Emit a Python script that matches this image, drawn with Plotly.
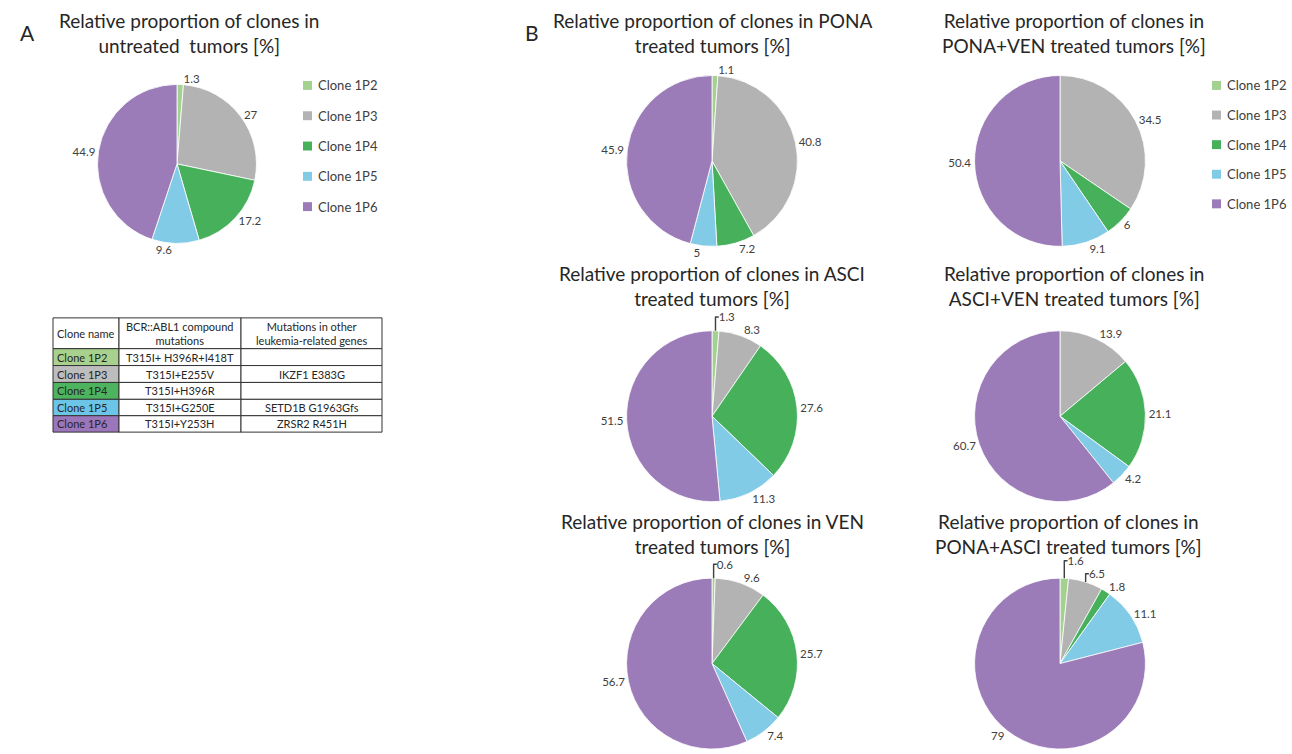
import plotly.graph_objects as go

W, H = 1292, 754

clones = ["Clone 1P2", "Clone 1P3", "Clone 1P4", "Clone 1P5", "Clone 1P6"]
colors = ["#a3d18f", "#b3b3b3", "#46b05b", "#82cbe6", "#9b7bb8"]
table_colors = ["#a9d18e", "#bdbdbd", "#4db35f", "#6cc5e6", "#9c76bb"]

untreated = [1.3, 27, 17.2, 9.6, 44.9]
pona = [1.1, 40.8, 7.2, 5, 45.9]
pona_ven = [0, 34.5, 6, 9.1, 50.4]
asci = [1.3, 8.3, 27.6, 11.3, 51.5]
asci_ven = [0, 13.9, 21.1, 4.2, 60.7]
ven = [0.6, 9.6, 25.7, 7.4, 56.7]
pona_asci = [1.6, 6.5, 1.8, 11.1, 79]

table_header = ["Clone name", "BCR::ABL1 compound<br>mutations",
                "Mutations in other<br>leukemia-related genes"]
bcr_abl1 = ["T315I+ H396R+I418T", "T315I+E255V", "T315I+H396R", "T315I+G250E", "T315I+Y253H"]
other_genes = ["", "IKZF1 E383G", "", "SETD1B G1963Gfs", "ZRSR2 R451H"]

FONT = "Lato"

def fx(p):
    return p / W

def fy(p):
    return min(1.0, max(0.0, 1 - p / H))

fig = go.Figure()

pies = [
    ("Relative proportion of clones in<br>untreated  tumors [%]", untreated, 177, 165, 80, 189, 33),
    ("Relative proportion of clones in PONA<br>treated tumors [%]", pona, 712, 162, 86, 712, 33),
    ("Relative proportion of clones in<br>PONA+VEN treated tumors [%]", pona_ven, 1060, 162, 86, 1074, 33),
    ("Relative proportion of clones in ASCI<br>treated tumors [%]", asci, 712, 419, 86, 712, 288),
    ("Relative proportion of clones in<br>ASCI+VEN treated tumors [%]", asci_ven, 1060, 419, 86, 1074, 288),
    ("Relative proportion of clones in VEN<br>treated tumors [%]", ven, 712, 668, 86, 712, 538),
    ("Relative proportion of clones in<br>PONA+ASCI treated tumors [%]", pona_asci, 1060, 668, 86, 1068, 538),
]

for title, vals, cx, cy, r, tx, ty in pies:
    fig.add_trace(go.Pie(
        labels=clones, values=vals, sort=False, direction="clockwise", rotation=0,
        marker=dict(colors=colors, line=dict(color="white", width=0.8)),
        textposition="outside",
        texttemplate=["%{value}" if v > 0 else "" for v in vals],
        textfont=dict(family=FONT, size=11.5, color="#404040"),
        showlegend=False, hoverinfo="label+value",
        domain=dict(x=[fx(cx - r), fx(cx + r)], y=[fy(cy + r), fy(cy - r)]),
    ))
    fig.add_annotation(x=fx(tx), y=fy(ty), xref="paper", yref="paper", text=title,
                       showarrow=False, font=dict(family=FONT, size=19, color="#262626"),
                       align="center", xanchor="center", yanchor="middle")

# panel letters
fig.add_annotation(x=fx(18), y=fy(18), xref="paper", yref="paper", text="A", showarrow=False,
                   font=dict(family=FONT, size=21, color="#262626"))
fig.add_annotation(x=fx(532), y=fy(18), xref="paper", yref="paper", text="B", showarrow=False,
                   font=dict(family=FONT, size=21, color="#262626"))

shapes = []

# legends
for lx, ly0, step in [(303, 86, 30.5), (1212, 86, 29.8)]:
    for i, (c, name) in enumerate(zip(colors, clones)):
        y = ly0 + i * step
        shapes.append(dict(type="rect", xref="paper", yref="paper",
                           x0=fx(lx), x1=fx(lx + 9), y0=fy(y + 4.5), y1=fy(y - 4.5),
                           fillcolor=c, line=dict(width=0)))
        fig.add_annotation(x=fx(lx + 13), y=fy(y), xref="paper", yref="paper", text=name,
                           showarrow=False, xanchor="left", yanchor="middle",
                           font=dict(family=FONT, size=13, color="#404040"))

# table (drawn with shapes + text)
col_x = [53, 119, 241, 382]
row_y = [320, 351, 368, 385, 402, 418.5, 435]
tfont = dict(family=FONT, size=11, color="#262626")
columns = [clones, bcr_abl1, other_genes]
for ri in range(len(row_y) - 1):
    y0, y1 = row_y[ri], row_y[ri + 1]
    for ci in range(3):
        x0, x1 = col_x[ci], col_x[ci + 1]
        fill = "white"
        if ri > 0 and ci == 0:
            fill = table_colors[ri - 1]
        shapes.append(dict(type="rect", xref="paper", yref="paper",
                           x0=fx(x0), x1=fx(x1), y0=fy(y1), y1=fy(y0),
                           fillcolor=fill, line=dict(color="#333333", width=1)))
        txt = table_header[ci] if ri == 0 else columns[ci][ri - 1]
        if not txt:
            continue
        if ci == 0:
            fig.add_annotation(x=fx(x0 + 2), y=fy((y0 + y1) / 2), xref="paper", yref="paper",
                               text=txt, showarrow=False, xanchor="left", yanchor="middle",
                               font=tfont)
        else:
            fig.add_annotation(x=fx((x0 + x1) / 2), y=fy((y0 + y1) / 2), xref="paper",
                               yref="paper", text=txt, showarrow=False, xanchor="center",
                               yanchor="middle", align="center", font=tfont)

fig.update_layout(shapes=shapes)

fig.update_layout(width=W, height=H, margin=dict(l=0, r=0, t=0, b=0),
                  paper_bgcolor="white", plot_bgcolor="white")

fig.write_html("out.html", config={"displayModeBar": False},
               post_script="document.body.style.margin='0';document.body.style.overflow='hidden';")
